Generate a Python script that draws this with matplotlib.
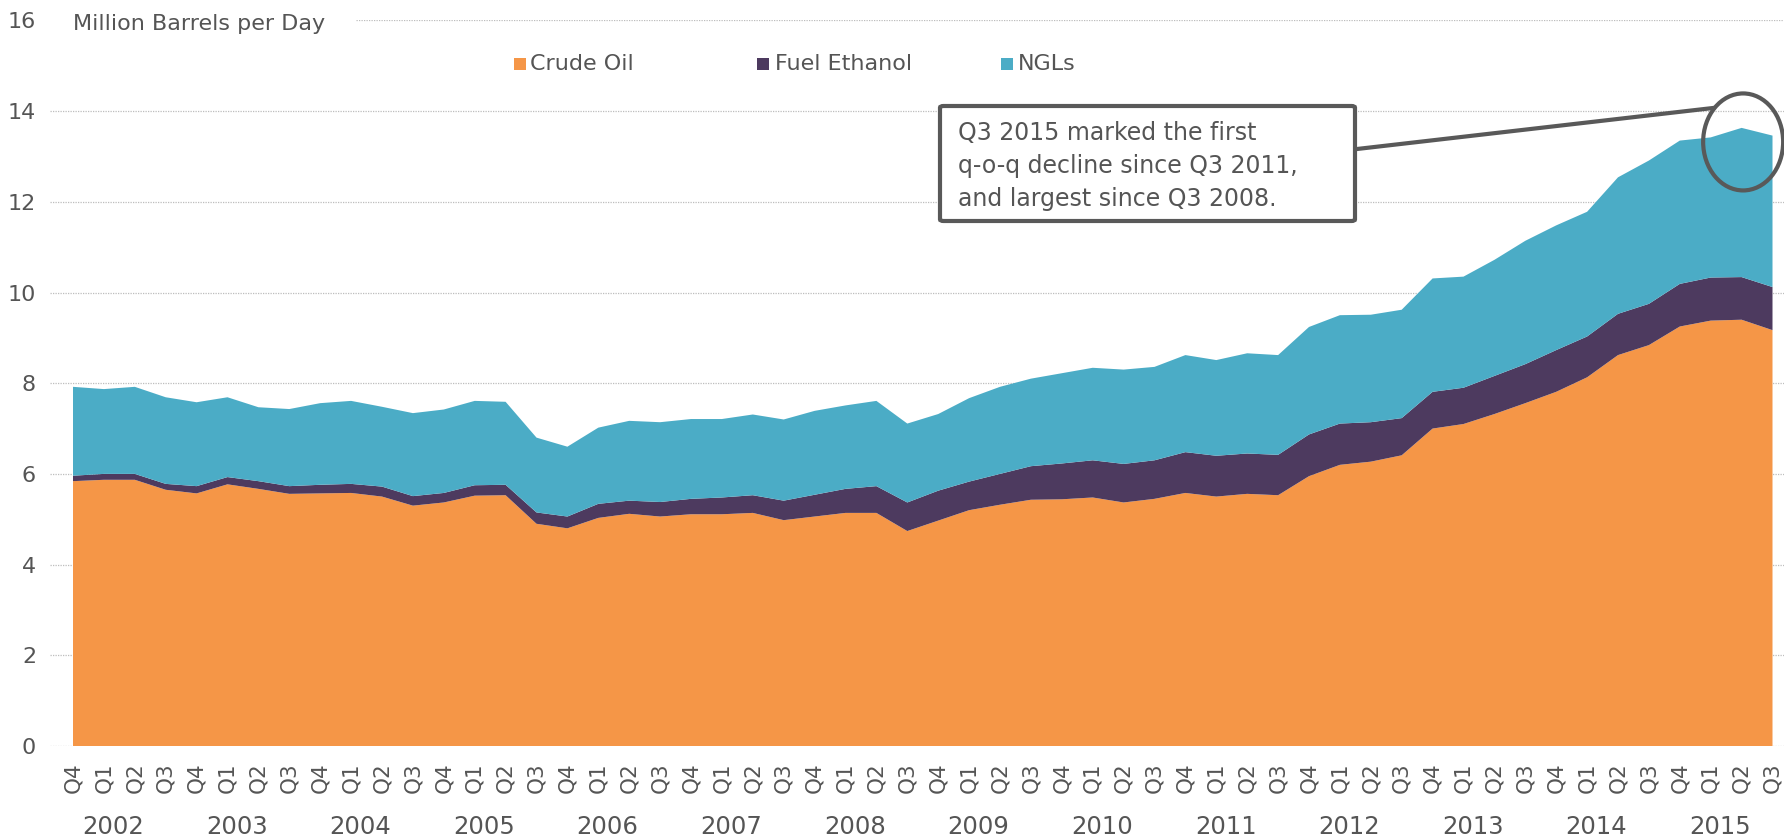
import numpy as np
import matplotlib
matplotlib.use("Agg")
import matplotlib.pyplot as plt
from matplotlib.patches import Rectangle, Ellipse, FancyBboxPatch
from matplotlib.lines import Line2D
import matplotlib.transforms as mtransforms

plt.rcParams['font.family'] = ['DejaVu Sans']

# ---------------- data ----------------
years = [2002, 2003, 2004, 2005, 2006, 2007, 2008, 2009, 2010, 2011, 2012, 2013, 2014, 2015]
quarter_labels = ["Q4", "Q1", "Q2", "Q3"] * len(years)

crude_oil = [5.84, 5.87, 5.87, 5.65, 5.57, 5.77, 5.67, 5.56, 5.57, 5.58, 5.50, 5.30, 5.37, 5.52,
             5.53, 4.90, 4.80, 5.03, 5.12, 5.06, 5.11, 5.11, 5.14, 4.98, 5.06, 5.14, 5.14, 4.74,
             4.97, 5.20, 5.32, 5.43, 5.44, 5.48, 5.37, 5.45, 5.58, 5.50, 5.56, 5.53, 5.95, 6.20,
             6.27, 6.41, 7.00, 7.10, 7.32, 7.56, 7.81, 8.13, 8.62, 8.84, 9.25, 9.38, 9.40, 9.17]
fuel_ethanol = [0.12, 0.13, 0.13, 0.13, 0.16, 0.16, 0.17, 0.17, 0.19, 0.20, 0.22, 0.21, 0.21, 0.23,
                0.23, 0.25, 0.26, 0.31, 0.29, 0.32, 0.34, 0.37, 0.39, 0.43, 0.48, 0.53, 0.59, 0.63,
                0.66, 0.63, 0.68, 0.74, 0.79, 0.82, 0.85, 0.85, 0.90, 0.90, 0.89, 0.89, 0.92, 0.91,
                0.87, 0.82, 0.81, 0.80, 0.84, 0.86, 0.92, 0.90, 0.91, 0.91, 0.94, 0.95, 0.94, 0.95]
ngls = [1.96, 1.87, 1.92, 1.91, 1.85, 1.76, 1.63, 1.70, 1.80, 1.83, 1.76, 1.83, 1.84, 1.86,
        1.83, 1.65, 1.54, 1.68, 1.76, 1.76, 1.76, 1.73, 1.78, 1.79, 1.85, 1.84, 1.88, 1.74,
        1.69, 1.84, 1.92, 1.93, 1.99, 2.04, 2.08, 2.06, 2.14, 2.11, 2.21, 2.20, 2.37, 2.39,
        2.37, 2.39, 2.50, 2.45, 2.56, 2.72, 2.75, 2.75, 3.01, 3.16, 3.16, 3.09, 3.29, 3.34]

series_names = ["Crude Oil", "Fuel Ethanol", "NGLs"]
colors = ["#F59647", "#4D3A5F", "#4BACC6"]
text_color = "#555555"
annotation_text = "Q3 2015 marked the first\nq-o-q decline since Q3 2011,\nand largest since Q3 2008."

# ---------------- figure ----------------
W, H = 1784, 838
fig = plt.figure(figsize=(W / 100, H / 100), dpi=100)
ax = fig.add_axes([50 / W, 92 / H, 1 - 50 / W, (746 - 20.4) / H])

x = np.arange(len(crude_oil))
ax.stackplot(x, crude_oil, fuel_ethanol, ngls, colors=colors, linewidth=0, zorder=3)

ax.set_xlim(-23 / 30.9, (1784 - 73) / 30.9)
ax.set_ylim(0, 16)

# gridlines (dotted)
yticks = np.arange(0, 17, 2)
for yv in yticks:
    xmin = (356 - 50) / (W - 50) if yv == 16 else 0
    ax.axhline(yv, xmin=xmin, xmax=1, color="#BDBDBD", lw=0.9, ls=(0, (1, 1)), zorder=1)

for s in ax.spines.values():
    s.set_visible(False)

ax.set_yticks(yticks)
ax.set_yticklabels([str(v) for v in yticks], fontsize=16, color=text_color)
ax.tick_params(axis='y', length=0, pad=10)

ax.set_xticks(x)
ax.set_xticklabels(quarter_labels, rotation=90, fontsize=15.5, color=text_color, va='top', ha='center')
ax.tick_params(axis='x', length=0, pad=12)

# year labels
trans = mtransforms.blended_transform_factory(ax.transData, fig.transFigure)
for k, yr in enumerate(years):
    ax.text(4 * k + 1.3, 11 / H, str(yr), transform=trans, ha='center', va='center',
            fontsize=17.5, color=text_color)

# axis title
fig.text(73 / W, 1 - 24 / H, "Million Barrels per Day", ha='left', va='center',
         fontsize=16, color=text_color)

# legend
leg_sq_x = [514, 757, 1001]
leg_tx_x = [530, 775, 1018]
for sx, tx, name, c in zip(leg_sq_x, leg_tx_x, series_names, colors):
    fig.patches.append(Rectangle((sx / W, 1 - 70 / H), 12 / W, 12 / H, transform=fig.transFigure,
                                 facecolor=c, edgecolor='none'))
    fig.text(tx / W, 1 - 64 / H, name, ha='left', va='center', fontsize=16, color=text_color)

# annotation box
box = FancyBboxPatch((940 / W, 1 - 221 / H), (1355 - 940) / W, (221 - 106) / H,
                     boxstyle="round,pad=0,rounding_size=0.002", transform=fig.transFigure,
                     facecolor='white', edgecolor="#595959", linewidth=3.0, zorder=5)
fig.patches.append(box)
fig.text(958 / W, 1 - 166 / H, annotation_text, ha='left', va='center', fontsize=17,
         color=text_color, linespacing=1.45, zorder=6)

# connector line
fig.lines.append(Line2D([1357 / W, 1713 / W], [1 - 149 / H, 1 - 108 / H], transform=fig.transFigure,
                        color="#595959", lw=3.0, zorder=4))

# circle around last points
circ = Ellipse((54.05, 13.32), 80 / 30.9, 97 / 45.35, facecolor='none', edgecolor="#595959",
               lw=3.0, zorder=6, clip_on=False)
ax.add_patch(circ)

fig.savefig("out.png", dpi=100, facecolor='white')
